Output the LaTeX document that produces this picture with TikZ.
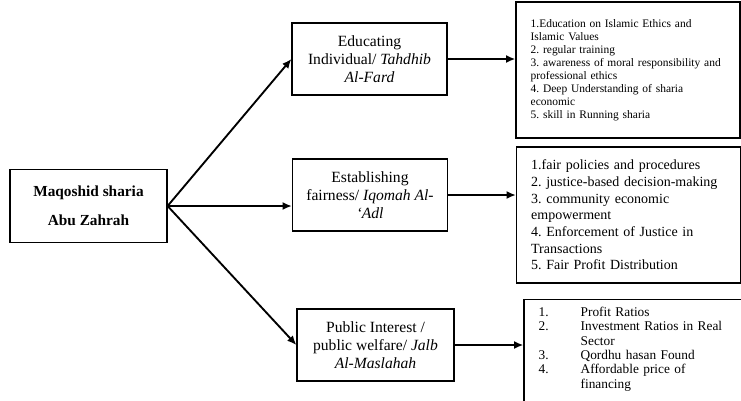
\documentclass[tikz,border=0pt]{standalone}
\usepackage{fontspec}
\setmainfont{Liberation Serif}
\usetikzlibrary{arrows.meta}
\frenchspacing
\begin{document}
\begin{tikzpicture}[x=0.75pt,y=-0.75pt,
    mainbox/.style={draw,line width=0.9pt,minimum width=117.75pt,minimum height=54.75pt,
      align=center,font=\bfseries\fontsize{11.5}{13}\selectfont},
    goalbox/.style={draw,line width=0.9pt,minimum width=116.25pt,minimum height=54pt,
      align=center,inner xsep=2pt,font=\fontsize{11.7}{13.6}\selectfont},
    listbox/.style={draw,line width=0.9pt,minimum width=168pt,inner xsep=11pt,
      text width=146pt,align=left}]
  \clip (0,0) rectangle (741,400);
  \draw
    (88.5,206) node[mainbox] (ms){Maqoshid sharia\\[9pt]Abu Zahrah}
    (369.5,59) node[goalbox] (g1){Educating\\Individual/ \textit{Tahdhib}\\\textit{Al-Fard}}
    (370,195) node[goalbox] (g2){Establishing\\fairness/ \textit{Iqomah Al-}\\\textit{`Adl}}
    (375.5,345) node[goalbox,minimum width=117.75pt] (g3){Public Interest /\\public welfare/ \textit{Jalb}\\\textit{Al-Maslahah}}
    (628,70) node[listbox,minimum height=102pt,font=\fontsize{8.6}{9.8}\selectfont] (r1){%
      1.Education on Islamic Ethics and\\Islamic Values\\2. regular training\\
      3. awareness of moral responsibility and\\professional ethics\\
      4. Deep Understanding of sharia\\economic\\5. skill in Running sharia\\[6pt]}
    (628.5,215) node[listbox,minimum height=102pt,font=\fontsize{10.5}{12.5}\selectfont] (r2){%
      1.fair policies and procedures\\2. justice-based decision-making\\
      3. community economic\\empowerment\\4. Enforcement of Justice in\\
      Transactions\\5. Fair Profit Distribution}
    (636,299) node[listbox,anchor=north,inner ysep=5.5pt,font=\fontsize{10}{10.8}\selectfont] (r3){%
      \makebox[31.5pt][l]{1.}Profit Ratios\\\makebox[31.5pt][l]{2.}Investment Ratios in Real\\
      \hspace*{31.5pt}Sector\\\makebox[31.5pt][l]{3.}Qordhu hasan Found\\
      \makebox[31.5pt][l]{4.}Affordable price of\\\hspace*{31.5pt}financing\\\rule{0pt}{24pt}};
  \begin{scope}[-{Latex[length=7pt,width=6pt]},line width=1.4pt]
    \draw (ms.east) to (g1.west);
    \draw (ms.east) to (ms.east -| g2.west);
    \draw (ms.east) to (g3.west);
    \draw (g1.east) to (g1.east -| r1.west);
    \draw (g2.east) to (g2.east -| r2.west);
    \draw (g3.east) to (g3.east -| r3.west);
  \end{scope}
\end{tikzpicture}
\end{document}
